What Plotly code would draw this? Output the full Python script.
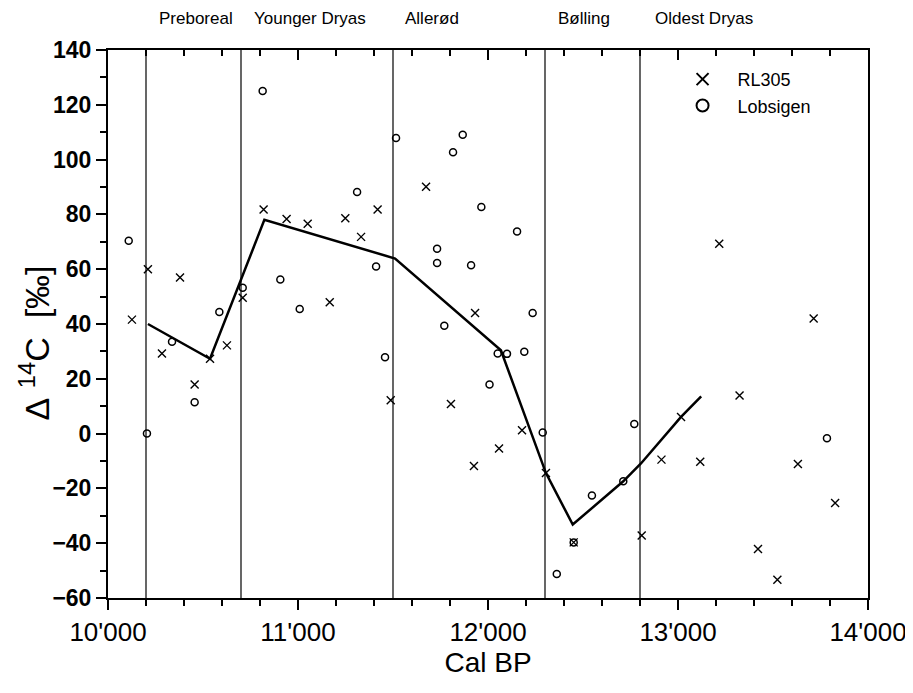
import plotly.graph_objects as go

# RL305 (crosses)
rl_x = [10126, 10210, 10284, 10379, 10456, 10537, 10626, 10709, 10819, 10940,
        11051, 11167, 11249, 11332, 11419, 11488, 11674, 11805, 11926, 11932,
        12058, 12179, 12305, 12451, 12809, 12913, 13016, 13117, 13217, 13324,
        13421, 13523, 13631, 13714, 13827]
rl_y = [41.6, 60, 29.2, 57, 17.9, 27.3, 32.2, 49.6, 81.8, 78.3,
        76.6, 47.9, 78.6, 71.8, 81.8, 12.2, 90.1, 10.8, -11.8, 44,
        -5.4, 1.2, -14.4, -39.7, -37.2, -9.5, 6.1, -10.3, 69.3, 13.9,
        -42.1, -53.3, -11.1, 42, -25.3]

# Lobsigen (circles)
lo_x = [10109, 10205, 10337, 10456, 10586, 10709, 10814, 10907, 11009, 11311,
        11411, 11458, 11516, 11732, 11732, 11770, 11816, 11867, 11911, 11965,
        12008, 12051, 12100, 12153, 12191, 12235, 12288, 12362, 12451, 12547,
        12712, 12770, 13784]
lo_y = [70.4, 0, 33.5, 11.4, 44.4, 53.2, 125, 56.2, 45.5, 88.2,
        61, 27.9, 107.9, 67.5, 62.3, 39.4, 102.7, 109.1, 61.4, 82.7,
        17.9, 29.2, 29.1, 73.8, 29.9, 44, 0.4, -51.2, -39.7, -22.6,
        -17.4, 3.5, -1.7]

# Curve
curve_x = [10210, 10537, 10823, 11511, 12068, 12305, 12446, 12712, 12805, 13016, 13122]
curve_y = [40, 27.3, 78, 63.9, 30.4, -14.4, -33.2, -17.4, -10.9, 6.1, 13.6]

# Period boundaries and labels
bounds = [10200, 10700, 11500, 12300, 12800]
period_names = ["Preboreal", "Younger Dryas", "Allerød", "Bølling", "Oldest Dryas"]
period_pos = [10463, 11063, 11705, 12505, 13137]

x_ticks = [10000, 11000, 12000, 13000, 14000]
x_ticktext = ["10'000", "11'000", "12'000", "13'000", "14'000"]
y_ticks = [-60, -40, -20, 0, 20, 40, 60, 80, 100, 120, 140]

FONT = "Liberation Sans"
NB = "\u00a0"

fig = go.Figure()
fig.add_trace(go.Scatter(x=curve_x, y=curve_y, mode="lines",
                         line=dict(color="black", width=2.5), showlegend=False,
                         hoverinfo="skip"))
fig.add_trace(go.Scatter(x=rl_x, y=rl_y, mode="markers", name=NB * 3 + "RL305",
                         marker=dict(symbol="x-thin", size=8, color="black",
                                     line=dict(width=1.4, color="black"))))
fig.add_trace(go.Scatter(x=lo_x, y=lo_y, mode="markers", name=NB * 3 + "Lobsigen",
                         marker=dict(symbol="circle-open", size=7, color="black",
                                     line=dict(width=1.5, color="black"))))
fig.add_trace(go.Scatter(x=[None], y=[None], xaxis="x2", showlegend=False,
                         hoverinfo="skip"))

for b in bounds:
    fig.add_shape(type="line", x0=b, x1=b, y0=-60, y1=140, xref="x", yref="y",
                  line=dict(color="black", width=1.2))

for name, px in zip(period_names, period_pos):
    fig.add_annotation(x=px, y=1.058, xref="x", yref="paper", text=name,
                       yanchor="middle", xanchor="center",
                       showarrow=False, font=dict(family=FONT, size=17, color="black"))

# y-axis title (placed as annotation to match vertical offset)
fig.add_annotation(x=-0.097, y=0.465, xref="paper", yref="paper",
                   text="Δ" + NB + "<sup>14</sup>C" + NB + NB + "[‰]", textangle=-90,
                   xanchor="center", yanchor="middle", showarrow=False,
                   font=dict(family=FONT, size=34, color="black"))

fig.update_layout(
    width=905, height=685,
    margin=dict(l=100, r=45, t=42, b=95),
    plot_bgcolor="white", paper_bgcolor="white",
    font=dict(family=FONT, color="black"),
    legend=dict(x=0.756, y=0.98, xanchor="left", yanchor="top",
                bgcolor="rgba(0,0,0,0)", font=dict(family=FONT, size=18),
                tracegroupgap=0, itemsizing="constant"),
    xaxis=dict(range=[10000, 14000], tickvals=x_ticks, ticktext=x_ticktext,
               automargin=False,
               ticks="outside", ticklen=10, tickwidth=1.5, tickcolor="black",
               showline=True, linecolor="black", linewidth=2, mirror=True,
               showgrid=False, zeroline=False,
               tickfont=dict(family=FONT, size=26),
               minor=dict(tickmode="linear", tick0=10000, dtick=200, ticks="outside",
                          ticklen=6, tickwidth=1.5, tickcolor="black", showgrid=False),
               title=dict(text="Cal BP", font=dict(family=FONT, size=28), standoff=0)),
    xaxis2=dict(range=[10000, 14000], overlaying="x", side="top", anchor="y",
                automargin=False,
                tickvals=x_ticks, showticklabels=False,
                ticks="inside", ticklen=10, tickwidth=1.5, tickcolor="black",
                showgrid=False, zeroline=False, showline=False,
                minor=dict(tickmode="linear", tick0=10000, dtick=200, ticks="inside",
                           ticklen=6, tickwidth=1.5, tickcolor="black", showgrid=False)),
    yaxis=dict(range=[-60, 140], tickvals=y_ticks, automargin=False,
               ticks="outside", ticklen=10, tickwidth=1.5, tickcolor="black",
               showline=True, linecolor="black", linewidth=2, mirror=True,
               showgrid=False, zeroline=False,
               tickfont=dict(family=FONT, size=23, weight="bold"),
               minor=dict(tickmode="linear", tick0=-60, dtick=10, ticks="outside",
                          ticklen=6, tickwidth=1.5, tickcolor="black", showgrid=False)),
)

fig.write_html("out.html")
